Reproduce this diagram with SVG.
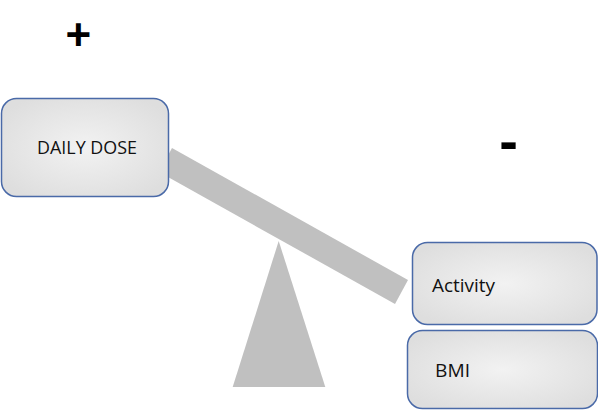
<svg xmlns="http://www.w3.org/2000/svg" width="598" height="413" viewBox="0 0 598 413">
<style>
.box{fill:url(#g);stroke:#4a6aa8;stroke-width:1.5}
.lbl{font-family:"Open Sans","Liberation Sans",sans-serif;font-size:17.5px;fill:#111}
.sign{font-family:"Liberation Sans",sans-serif;font-weight:bold;fill:#000}
.part{fill:#c0c0c0}
</style>
<defs>
<radialGradient id="g" cx="50%" cy="50%" r="60%">
<stop offset="0" stop-color="#f2f2f2"/>
<stop offset="1" stop-color="#dedede"/>
</radialGradient>
</defs>
<rect width="598" height="413" fill="#fff"/>
<g id="seesaw">
<polygon class="part" points="278.7,241 325.3,387 232.7,387"/>
<polygon class="part" points="172,148 408,280 395,304 159,172"/>
</g>
<g id="daily-dose">
<rect class="box" x="1.5" y="98.5" width="167" height="98" rx="15"/>
<text class="lbl" x="37" y="154" textLength="100" lengthAdjust="spacingAndGlyphs">DAILY DOSE</text>
</g>
<g id="activity">
<rect class="box" x="412.5" y="242.5" width="184.5" height="82" rx="15"/>
<text class="lbl" x="432" y="292" textLength="63" lengthAdjust="spacingAndGlyphs">Activity</text>
</g>
<g id="bmi">
<rect class="box" x="407.5" y="330.5" width="190" height="78" rx="15"/>
<text class="lbl" x="435" y="377" textLength="35" lengthAdjust="spacingAndGlyphs">BMI</text>
</g>
<g id="signs">
<text class="sign" x="78.3" y="50" font-size="44" text-anchor="middle">+</text>
<text class="sign" x="508.7" y="160" font-size="56" text-anchor="middle">-</text>
</g>
</svg>
